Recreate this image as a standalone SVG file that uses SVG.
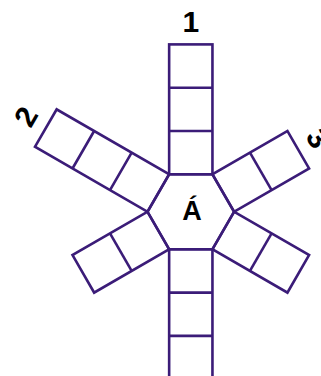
<svg xmlns="http://www.w3.org/2000/svg" width="321" height="376" viewBox="0 0 321 376">
<style>
.s{fill:none;stroke:#3b1c78;stroke-width:2.6;stroke-linejoin:miter}
.lbl{font-family:"Liberation Sans",Arial,sans-serif;font-size:30px;font-weight:bold;fill:#000;text-anchor:middle}
.ctr{font-family:"Liberation Sans",Arial,sans-serif;font-size:27px;font-weight:bold;fill:#000;text-anchor:middle}
</style>
<rect width="321" height="376" fill="#fff"/>
<defs>
<g id="arm3"><rect class="s" x="-21.65" y="-167.4" width="43.3" height="129.9"/><path class="s" d="M-21.65 -80.8H21.65M-21.65 -124.1H21.65"/></g>
<g id="arm2"><rect class="s" x="-21.65" y="-124.1" width="43.3" height="86.6"/><path class="s" d="M-21.65 -80.8H21.65"/></g>
</defs>
<g id="arms" transform="translate(190.8 211.8)">
<g id="arm-top"><use href="#arm3"/><text class="lbl" x="0" y="-180.1">1</text></g>
<g id="arm-upper-left" transform="rotate(-60)"><use href="#arm3"/><text class="lbl" x="0" y="-180.1">2</text></g>
<g id="arm-upper-right" transform="rotate(60)"><use href="#arm2"/><text class="lbl" x="0" y="-136.8">3</text></g>
<g id="arm-lower-right" transform="rotate(120)"><use href="#arm2"/></g>
<g id="arm-lower-left" transform="rotate(-120)"><use href="#arm2"/></g>
<g id="arm-bottom" transform="rotate(180)"><use href="#arm3"/></g>
</g>
<g id="hexagon">
<polygon class="s" points="169.15,174.3 212.45,174.3 234.1,211.8 212.45,249.3 169.15,249.3 147.5,211.8"/>
<text class="ctr" x="192" y="219.5">Á</text>
</g>
</svg>
